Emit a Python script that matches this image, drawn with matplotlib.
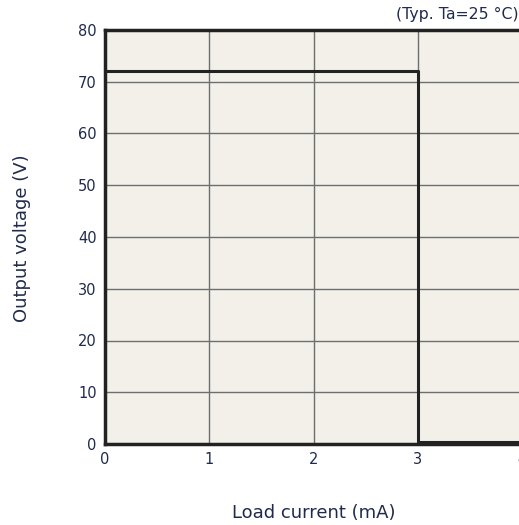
import matplotlib.pyplot as plt
import numpy as np

plt.rcParams['font.family'] = ['DejaVu Sans']

# data
current = [0, 3, 3, 4.2]
voltage = [72, 72, 0.3, 0.3]
x_ticks = [0, 1, 2, 3, 4]
y_ticks = [0, 10, 20, 30, 40, 50, 60, 70, 80]

txt_color = '#1f2a4d'

fig = plt.figure(figsize=(5.19, 5.25), dpi=100)
ax = fig.add_axes([105/519, 1 - 444/525, (522 - 105)/519, (444 - 30)/525])
ax.set_facecolor('#f2f0e8')

ax.plot(current, voltage, color='#222222', linewidth=2.2, zorder=3, clip_on=False)

ax.set_xlim(0, 4)
ax.set_ylim(0, 80)
ax.set_xticks(x_ticks)
ax.set_yticks(y_ticks)
ax.grid(True, color='#6e6e6e', linewidth=1.0)
ax.set_axisbelow(True)
ax.tick_params(length=0, labelsize=10.5, labelcolor=txt_color, pad=6)

for s in ['left', 'bottom', 'top']:
    ax.spines[s].set_linewidth(2.5)
    ax.spines[s].set_color('#222222')
ax.spines['right'].set_visible(False)

fig.text(22/519, 1 - 238/525, 'Output voltage (V)', rotation=90, ha='center', va='center',
         fontsize=13, color=txt_color)
fig.text(314/519, 1 - 513/525, 'Load current (mA)', ha='center', va='center',
         fontsize=13, color=txt_color)
fig.text(519/519, 1 - 14/525, '(Typ. Ta=25 °C)', ha='right', va='center',
         fontsize=11.3, color=txt_color)

plt.savefig('out.png', dpi=100)
